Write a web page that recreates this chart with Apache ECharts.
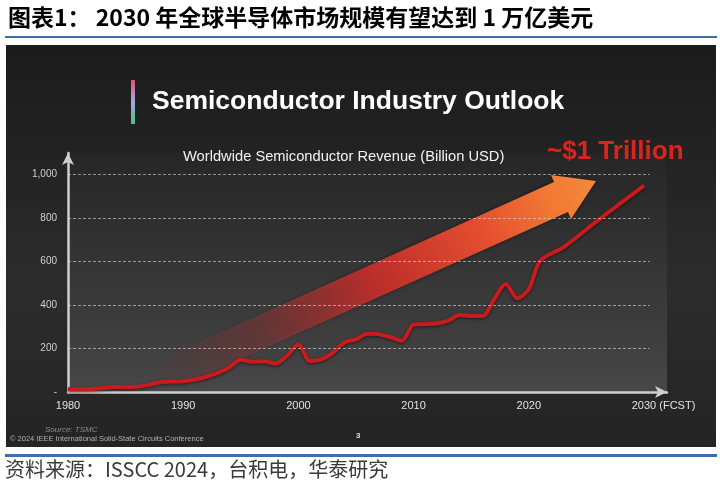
<!DOCTYPE html>
<html>
<head>
<meta charset="utf-8">
<script src="https://cdn.jsdelivr.net/npm/echarts@6/dist/echarts.min.js"></script>
<style>
  html, body { margin: 0; padding: 0; background: #fff; }
  #main { width: 722px; height: 489px; }
</style>
</head>
<body>
<div id="main"></div>
<script>
// revenue (billion USD); years after 2021 are the forecast line
var years = [1980, 1981, 1982, 1983, 1984, 1985, 1986, 1987, 1988, 1989,
             1990, 1991, 1992, 1993, 1994, 1995, 1996, 1997, 1998, 1999,
             2000, 2001, 2002, 2003, 2004, 2005, 2006, 2007, 2008, 2009,
             2010, 2011, 2012, 2013, 2014, 2015, 2016, 2017, 2018, 2019,
             2020, 2021, 2023, 2026, 2030];
var revenue = [13, 13, 14, 18, 23, 22, 24, 33, 45, 48,
               50, 57, 70, 88, 113, 149, 139, 141, 131, 166,
               219, 143, 150, 181, 228, 242, 268, 266, 252, 236,
               310, 312, 315, 328, 354, 350, 350, 428, 497, 431,
               473, 604, 666, 790, 950];
var gridTicks = [200, 400, 600, 800, 1000];

var chartTitle = '图表1： 2030 年全球半导体市场规模有望达到 1 万亿美元';
var slideTitle = 'Semiconductor Industry Outlook';
var axisTitle = 'Worldwide Semiconductor Revenue (Billion USD)';
var callout = '~$1 Trillion';
var sourceNote = '资料来源：ISSCC 2024，台积电，华泰研究';

var myChart = echarts.init(document.getElementById('main'));

// arrow shape (decoration on the slide, pixel space)
var arrowPts = [[153, 363], [554, 182], [551, 175], [596, 181], [571, 219], [568, 212], [167, 392]];

myChart.setOption({
    animation: false,
    backgroundColor: '#ffffff',
    grid: {
        left: 68, right: 55, top: 153, bottom: 97,
        show: true,
        borderWidth: 0,
        backgroundColor: new echarts.graphic.LinearGradient(0, 0, 0, 1, [
            { offset: 0, color: 'rgba(50,50,50,0.2)' },
            { offset: 1, color: '#484848' }
        ])
    },
    graphic: [
        { type: 'text', left: 8, top: 6, z: 10,
          style: { text: chartTitle, fill: '#000', font: 'bold 23px "Noto Sans CJK SC", sans-serif' } },
        { type: 'rect', shape: { x: 5, y: 36, width: 712, height: 2 }, style: { fill: '#3d6ea6' } },
        { type: 'rect', z: -10, shape: { x: 6, y: 45, width: 710, height: 402 },
          style: { fill: new echarts.graphic.LinearGradient(0, 0, 0, 1, [
              { offset: 0, color: '#1b1b1b' },
              { offset: 0.6, color: '#2c2c2c' },
              { offset: 1, color: '#242424' }
          ]) } },
        { type: 'rect', z: 10, shape: { x: 131, y: 80, width: 4, height: 44 },
          style: { fill: new echarts.graphic.LinearGradient(0, 0, 0, 1, [
              { offset: 0, color: '#d9577a' },
              { offset: 0.5, color: '#a6a6e6' },
              { offset: 1, color: '#4fbf86' }
          ]) } },
        { type: 'text', left: 152, top: 88, z: 10,
          style: { text: slideTitle, fill: '#fff', font: 'bold 26.5px "Liberation Sans", Arial, sans-serif',
                   shadowColor: 'rgba(0,0,0,0.8)', shadowBlur: 3, shadowOffsetX: 1, shadowOffsetY: 2 } },
        { type: 'text', left: 183, top: 149, z: 10,
          style: { text: axisTitle, fill: '#f2f2f2', font: '14.7px "Liberation Sans", Arial, sans-serif' } },
        { type: 'text', left: 547, top: 139, z: 10,
          style: { text: callout, fill: '#dc241c', font: 'bold 26px "Liberation Sans", Arial, sans-serif',
                   shadowColor: 'rgba(0,0,0,0.9)', shadowBlur: 3, shadowOffsetX: 1, shadowOffsetY: 1 } },
        { type: 'polygon', z: 3, shape: { points: arrowPts },
          style: { fill: new echarts.graphic.LinearGradient(0, 1, 1, 0, [
              { offset: 0, color: 'rgba(180,60,60,0)' },
              { offset: 0.25, color: 'rgba(200,60,60,0.3)' },
              { offset: 0.5, color: 'rgba(214,48,44,0.85)' },
              { offset: 0.75, color: '#e6502f' },
              { offset: 0.9, color: '#f27a33' },
              { offset: 1, color: '#f58a3b' }
          ]), shadowColor: 'rgba(0,0,0,0.5)', shadowBlur: 4 } },
        { type: 'text', left: 45, top: 426, z: 10,
          style: { text: 'Source: TSMC', fill: '#8a8a8a', font: 'italic 8px "Liberation Sans", Arial, sans-serif' } },
        { type: 'text', left: 10, top: 435, z: 10,
          style: { text: '© 2024 IEEE International Solid-State Circuits Conference', fill: '#b0b0b0',
                   font: '7.5px "Liberation Sans", Arial, sans-serif' } },
        { type: 'text', left: 356, top: 432, z: 10,
          style: { text: '3', fill: '#e0e0e0', font: 'bold 8px "Liberation Sans", Arial, sans-serif' } },
        { type: 'rect', shape: { x: 5, y: 454, width: 712, height: 3 }, style: { fill: '#3d6ea6' } },
        { type: 'text', left: 5, top: 459, z: 10,
          style: { text: sourceNote, fill: '#3a3a3a', font: '20px "Noto Sans CJK SC", sans-serif' } }
    ],
    xAxis: {
        type: 'value',
        min: 1980, max: 2032, interval: 10,
        splitLine: { show: false },
        axisTick: { show: false },
        axisLine: {
            show: true, symbol: ['none', 'arrow'], symbolSize: [9, 12],
            lineStyle: { color: '#cfcfcf', width: 2.5 }
        },
        axisLabel: {
            color: '#e2e2e2', fontSize: 11, margin: 8,
            fontFamily: '"Liberation Sans", Arial, sans-serif',
            showMaxLabel: false,
            rich: { h: { color: 'rgba(0,0,0,0)', fontSize: 11 } },
            formatter: function (v) {
                if (v % 10 !== 0) return '';
                if (v === 2030) return '{h|(FCST) }2030 (FCST)';
                return String(v);
            }
        }
    },
    yAxis: {
        type: 'value',
        min: 0, max: 1100, interval: 200,
        splitLine: { show: false },
        axisTick: { show: false },
        axisLine: {
            show: true, symbol: ['none', 'arrow'], symbolSize: [9, 12],
            lineStyle: { color: '#cfcfcf', width: 2.5 }
        },
        axisLabel: {
            color: '#d0d0d0', fontSize: 10, margin: 11,
            fontFamily: '"Liberation Sans", Arial, sans-serif',
            showMaxLabel: false,
            formatter: function (v) {
                if (v === 0) return '-';
                if (v > 1000) return '';
                return v >= 1000 ? '1,000' : String(v);
            }
        }
    },
    series: [{
        name: 'Revenue',
        type: 'line',
        data: years.map(function (y, i) { return [y, revenue[i]]; }),
        showSymbol: false,
        smooth: 0.3,
        z: 4,
        lineStyle: {
            color: '#c91a1d', width: 4,
            shadowColor: 'rgba(0,0,0,0.55)', shadowBlur: 3, shadowOffsetY: 1
        },
        markLine: {
            silent: true,
            symbol: 'none',
            label: { show: false },
            lineStyle: { color: 'rgba(220,220,220,0.6)', type: [3, 2], width: 1 },
            data: gridTicks.map(function (v) {
                return [{ coord: [1980, v] }, { coord: [2030.5, v] }];
            })
        }
    }]
});
</script>
</body>
</html>
